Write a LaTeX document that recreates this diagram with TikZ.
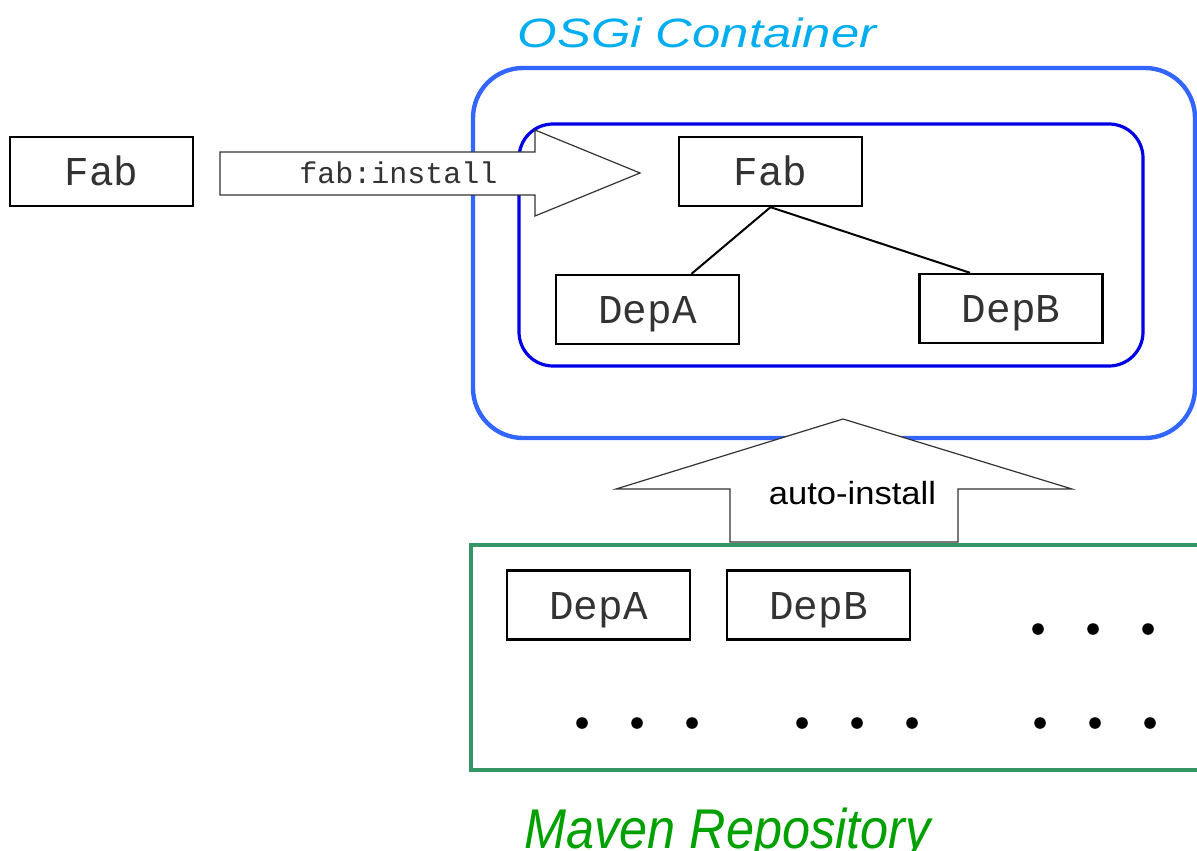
\documentclass[tikz,border=0pt]{standalone}
\usepackage{fontspec}
\setmainfont{Liberation Serif}
\setsansfont{Liberation Sans}
\setmonofont{Liberation Mono}
\usepackage{graphicx}

\definecolor{osgiblue}{RGB}{51,102,255}
\definecolor{bundleblue}{RGB}{0,0,230}
\definecolor{repogreen}{RGB}{51,150,100}
\definecolor{mavengreen}{RGB}{0,160,0}
\definecolor{osgicyan}{RGB}{0,174,239}

\tikzset{pkgbox/.style={draw,line width=1.2pt,minimum width=91.5pt,minimum height=34.5pt,inner sep=0pt,
           font=\ttfamily\fontsize{20.5}{20.5}\selectfont,text height=14pt,text depth=0pt,text=black!80},
         blockarrow/.style={draw=black!80,line width=0.6pt,fill=white},
         repodot/.style={fill=black},
         link/.style={line width=1pt}}

\begin{document}
\begin{tikzpicture}[x=0.5pt,y=-0.5pt]
                  \useasboundingbox (0,0) rectangle (1197,850);
                  \draw[osgiblue,line width=2.2pt,rounded corners=25pt] (473,68) rectangle (1195,438);
                  \draw[bundleblue,line width=1.6pt,rounded corners=17pt] (519,124) rectangle (1143,366);
                  \draw[repogreen,line width=2pt] (471,545) rectangle (1215,770);
                  \draw[blockarrow] (220,152) -- (535,152) -- (535,130) -- (640,173) -- (535,216) -- (535,195) -- (220,195) -- cycle;
                  \draw[blockarrow] (730,542) -- (730,489) -- (616,489) -- (843,419) -- (1072,489) -- (958,489) -- (958,542) -- cycle;
                  \node[anchor=base,font=\ttfamily\fontsize{15}{15}\selectfont,text=black!80] (install) at (398.5,184) {fab:install};
                  \node[anchor=base,font=\sffamily\fontsize{16}{16}\selectfont] (autoinstall) at (852.5,504) {\scalebox{1.08}[1]{auto-install}};
                  \node[pkgbox] (fabsrc) at (101.5,171.5) {Fab};
                  \node[pkgbox] (fab) at (770.5,171.5) {Fab};
                  \node[pkgbox] (depa) at (647.5,309.5) {DepA};
                  \node[pkgbox] (depb) at (1011,308.5) {DepB};
                  \node[pkgbox] (repoa) at (598.5,605) {DepA};
                  \node[pkgbox] (repob) at (818.5,605) {DepB};
                  \draw[link] (fab.south) -- ([xshift=22pt]depa.north);
                  \draw[link] (fab.south) -- ([xshift=-20.5pt]depb.north);
                  \foreach \x in {1038,1093,1148} \fill[repodot] (\x,629) circle (2.9pt);
                  \foreach \x in {582,637,692,802,857,912,1040,1095,1150} \fill[repodot] (\x,723) circle (2.9pt);
                  \node[anchor=base,text=osgicyan,font=\sffamily\itshape\fontsize{20.5}{20.5}\selectfont] (osgi) at (697,48) {\scalebox{1.24}[1]{OSGi Container}};
                  \node[anchor=base,text=mavengreen,font=\sffamily\itshape\fontsize{28}{28}\selectfont] (maven) at (727.5,848) {\scalebox{0.9}[1]{Maven Repository}};
              \end{tikzpicture}
\end{document}
